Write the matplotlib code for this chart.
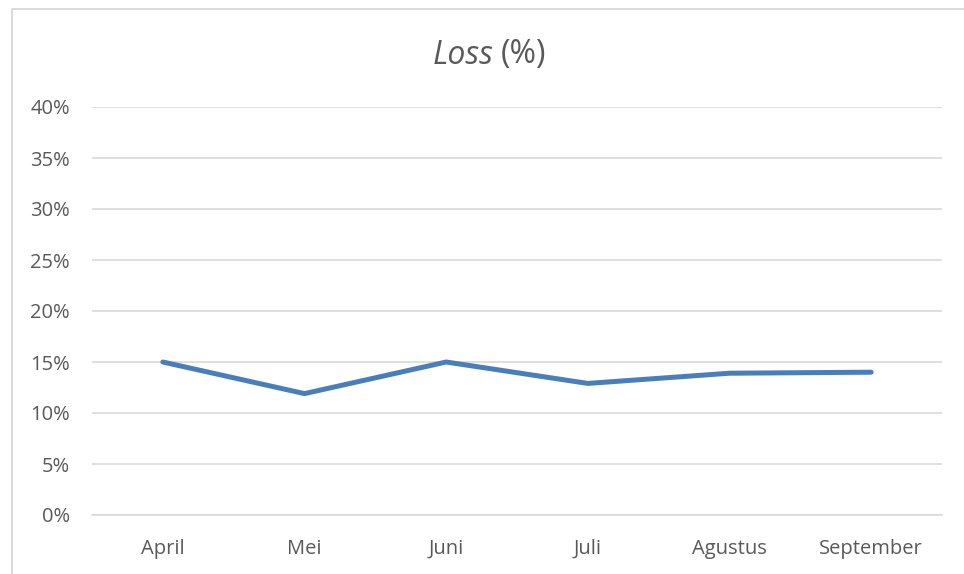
import matplotlib
matplotlib.use('Agg')
import matplotlib.pyplot as plt
from matplotlib.lines import Line2D
from matplotlib.ticker import PercentFormatter

months = ['April', 'Mei', 'Juni', 'Juli', 'Agustus', 'September']
loss = [0.150, 0.119, 0.150, 0.129, 0.139, 0.140]
yticks = [0.00, 0.05, 0.10, 0.15, 0.20, 0.25, 0.30, 0.35, 0.40]

text_col = '#595959'
grid_col = '#D9D9D9'
line_col = '#4A7EBB'

plt.rcParams['font.family'] = ['Open Sans', 'DejaVu Sans']

fig = plt.figure(figsize=(9.64, 5.74), dpi=100)
W, H = 964, 574

# chart border: only the left and top edges fall inside the screenshot
fig.lines.append(Line2D([11.5 / W, 11.5 / W, 1.0], [0.0, 1 - 8.5 / H, 1 - 8.5 / H],
                        transform=fig.transFigure, color=grid_col, linewidth=1.3))

ax = fig.add_axes([92 / W, 59 / H, 850 / W, 408 / H])
x = range(len(months))
ax.plot(x, loss, color=line_col, linewidth=3.6, solid_capstyle='round',
        solid_joinstyle='round', zorder=3)

ax.set_xlim(-0.5, len(months) - 0.5)
ax.set_ylim(0, 0.40)
ax.set_yticks(yticks)
ax.yaxis.set_major_formatter(PercentFormatter(1.0, decimals=0))
ax.set_xticks(list(x))
ax.set_xticklabels(months)
ax.yaxis.grid(True, color=grid_col, linewidth=1.2)
ax.set_axisbelow(True)
for s in ax.spines.values():
    s.set_visible(False)
ax.spines['bottom'].set_visible(True)
ax.spines['bottom'].set_color(grid_col)
ax.spines['bottom'].set_linewidth(1.2)
ax.tick_params(axis='both', length=0, colors=text_col, labelsize=14.5)
ax.tick_params(axis='y', pad=16)
ax.tick_params(axis='x', pad=17)

fig.text(494 / W, 1 - 55 / H, 'Loss', style='italic', ha='right', va='center',
         fontsize=23, color=text_col)
fig.text(501 / W, 1 - 55 / H, '(%)', ha='left', va='center',
         fontsize=23, color=text_col)

fig.savefig('out.png', dpi=100)
